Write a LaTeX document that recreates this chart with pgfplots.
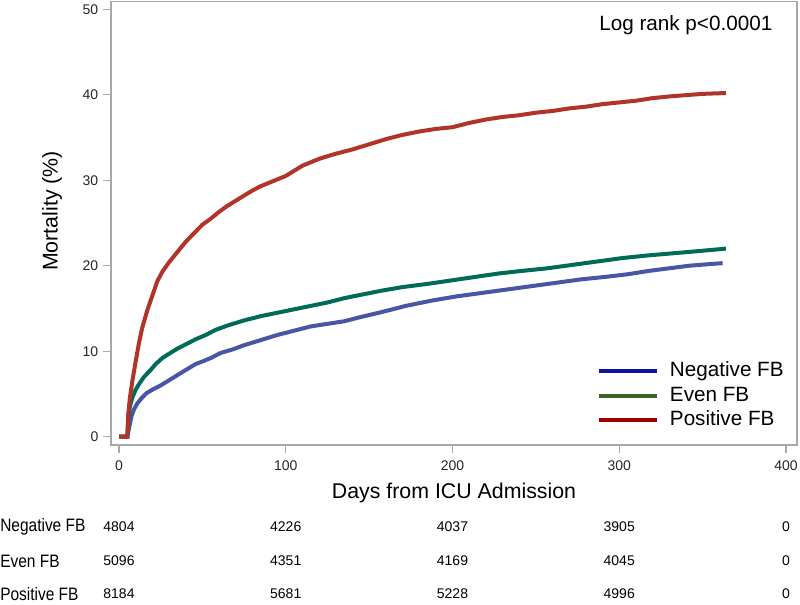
\documentclass[border=0pt]{standalone}
\usepackage{pgfplots}
\pgfplotsset{compat=1.18}
\usepackage{fontspec}
\setmainfont{Liberation Sans}
\newfontfamily\narrowfont[FakeStretch=0.86]{Liberation Sans}
\definecolor{cRed}{RGB}{176,52,42}
\definecolor{cGreen}{RGB}{0,107,88}
\definecolor{cBlue}{RGB}{72,86,165}
\definecolor{lBlue}{RGB}{16,16,165}
\definecolor{lGreen}{RGB}{60,100,40}
\definecolor{lRed}{RGB}{160,0,0}
\definecolor{axgray}{RGB}{168,168,168}

\pgfplotstableread{
d m
0 0
5 0
5.5 2.5
6.5 4.5
8 6.5
10 8.8
12 11
14 12.8
17 14.8
20 16.5
23 18.2
26 19.3
30 20.4
35 21.6
40 22.8
45 23.8
50 24.8
55 25.5
60 26.3
65 27.0
70 27.6
75 28.2
80 28.8
85 29.3
90 29.7
95 30.1
100 30.5
110 31.7
120 32.5
130 33.1
140 33.6
150 34.2
160 34.8
170 35.3
180 35.7
190 36.0
200 36.2
210 36.7
220 37.1
230 37.4
240 37.6
250 37.9
260 38.1
270 38.4
280 38.6
290 38.9
300 39.1
310 39.3
320 39.6
330 39.8
340 39.95
350 40.1
364 40.2
}\posfb

\pgfplotstableread{
d m
0 0
5 0
5.5 1.8
6.5 3.5
8 4.6
10 5.5
12.5 6.3
15 7.0
18.5 7.7
22 8.5
26 9.2
30 9.7
35 10.3
40 10.8
46 11.4
52 11.9
58 12.5
65 13.0
75 13.6
85 14.1
95 14.5
105 14.9
115 15.3
125 15.7
135 16.2
145 16.6
158 17.1
170 17.5
186 17.9
200 18.3
214 18.7
228 19.1
242 19.4
257 19.7
272 20.1
287 20.5
302 20.9
317 21.2
332 21.45
347 21.7
364 22.0
}\evenfb

\pgfplotstableread{
d m
0 0
5 0
6 1.0
7.5 2.4
9 3.2
11 3.9
13.5 4.5
16.5 5.1
20 5.5
25 6.0
30 6.6
35 7.2
40 7.8
46 8.5
50 8.8
55 9.2
61 9.8
68 10.2
75 10.7
85 11.3
95 11.9
105 12.4
115 12.9
125 13.2
135 13.5
145 14.0
158 14.6
172 15.3
187 15.9
202 16.4
217 16.8
232 17.2
247 17.6
262 18.0
277 18.4
292 18.7
305 19.0
318 19.4
330 19.7
342 20.0
355 20.2
362 20.3
}\negfb

\begin{document}
\begin{tikzpicture}
\useasboundingbox (-83.25pt,-119.25pt) rectangle (516.75pt,333.75pt);
\begin{axis}[
  at={(0,0)}, anchor=south west,
  scale only axis,
  width=514.5pt, height=332.6pt,
  xmin=-4.8, xmax=406.6, ymin=-0.97, ymax=50.9,
  xtick={0,100,200,300,400},
  ytick={0,10,20,30,40,50},
  tick align=outside,
  major tick length=6pt,
  axis line style={axgray, line width=1.1pt},
  tick style={axgray, line width=1pt},
  xtick pos=bottom, ytick pos=left,
  /pgf/number format/assume math mode=true,
  ticklabel style={font=\fontsize{10.5}{12}\selectfont, text=black!85},
  xticklabel style={yshift=-2.2pt},
  clip=false,
  legend style={at={(rel axis cs:0.7085,0.1894)}, anchor=north west,
    draw=none, fill=none, inner sep=0pt,
    font=\fontsize{15.5}{18}\selectfont,
    nodes={inner sep=0pt, text height=11.5pt, text depth=3.5pt},
    row sep=3.4pt, column sep=8pt},
  legend cell align=left,
  legend image code/.code={\draw[#1, line width=3pt] (-1.5pt,0pt) -- (42pt,0pt);},
]
\addplot[cBlue, line width=3pt, forget plot] table[x=d,y=m] {\negfb};
\addplot[cGreen, line width=3pt, forget plot] table[x=d,y=m] {\evenfb};
\addplot[cRed, line width=3pt, forget plot] table[x=d,y=m] {\posfb};
\addlegendimage{lBlue}
\addlegendentry{Negative FB}
\addlegendimage{lGreen}
\addlegendentry{Even FB}
\addlegendimage{lRed}
\addlegendentry{Positive FB}
\end{axis}
\foreach \xx/\a/\b/\c in {6.0/4804/5096/8184, 131.06/4226/4351/5681, 256.12/4037/4169/5228, 381.18/3905/4045/4996, 506.24/0/0/0}{
  \node[font=\fontsize{10.5}{12}\selectfont] at (\xx pt,-61.5pt) {\a};
  \node[font=\fontsize{10.5}{12}\selectfont] at (\xx pt,-87pt) {\b};
  \node[font=\fontsize{10.5}{12}\selectfont] at (\xx pt,-111.75pt) {\c};
}
\node[font=\fontsize{16}{19}\selectfont] at (257.25pt,-36pt) {Days from ICU Admission};
\node[font=\fontsize{16}{19}\selectfont, rotate=90] at (-44.25pt,175.5pt) {Mortality (\%)};
\node[font=\fontsize{15.5}{18}\selectfont, anchor=east] at (499.5pt,315pt) {Log rank p<0.0001};
\node[font=\narrowfont\fontsize{13.5}{16}\selectfont, anchor=west, inner sep=0pt] at (-83.25pt,-61.5pt) {Negative FB};
\node[font=\narrowfont\fontsize{13.5}{16}\selectfont, anchor=west, inner sep=0pt] at (-83.25pt,-87pt) {Even FB};
\node[font=\narrowfont\fontsize{13.5}{16}\selectfont, anchor=west, inner sep=0pt] at (-83.25pt,-111.75pt) {Positive FB};
\end{tikzpicture}
\end{document}
